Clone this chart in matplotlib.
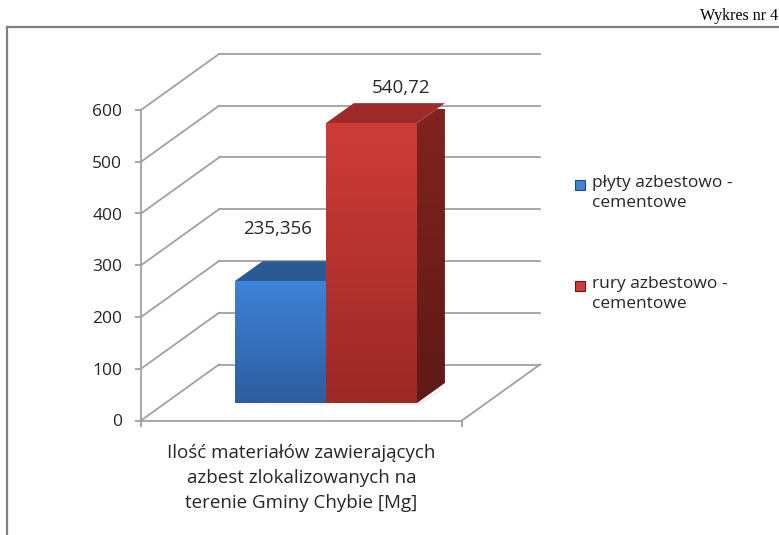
import matplotlib
matplotlib.use("Agg")
import matplotlib.pyplot as plt
import numpy as np
from matplotlib.colors import LinearSegmentedColormap
from matplotlib.lines import Line2D
from matplotlib.patches import Polygon, Rectangle

category = "Ilość materiałów zawierających\nazbest zlokalizowanych na\nterenie Gminy Chybie [Mg]"
series_names = ["płyty azbestowo -\ncementowe", "rury azbestowo -\ncementowe"]
values = [235.356, 540.72]
value_labels = ["235,356", "540,72"]
y_ticks = [0, 100, 200, 300, 400, 500, 600]

# per series: front (top, bottom), side (top, bottom), top face
front_colors = [("#3f82d8", "#2d5d9e"), ("#ce3c39", "#9b2926")]
side_colors = [("#2c5a92", "#23497a"), ("#82231f", "#5e1a18")]
top_colors = ["#2b5a93", "#9d2b29"]
label_offsets = [(-3, 52), (30, 35)]  # px, relative to top of front face

plt.rcParams["font.family"] = ["Open Sans", "DejaVu Sans"]
FS = 12.5
TEXT = "#262626"
GRID = "#a0a0a0"

W, H = 779, 535
fig = plt.figure(figsize=(W / 100, H / 100), dpi=100)
ax = fig.add_axes([141 / W, (H - 420.5) / H, 321 / W, 310.5 / H])

DX, DY = 78 / 321, 56 * 600 / 310.5  # wall depth in data units
D0, D1 = 0.31, 0.67                  # bar depth (fraction of wall)
group_w = 0.568
bar_w = group_w / len(values)


def face(pts, c_top, c_bot, z):
    poly = Polygon(pts, closed=True, facecolor="none", edgecolor="none", zorder=z)
    ax.add_patch(poly)
    xs, ys = zip(*pts)
    cmap = LinearSegmentedColormap.from_list("f", [c_bot, c_top])
    grad = np.linspace(0, 1, 256)[:, None]
    im = ax.imshow(grad, extent=(min(xs), max(xs), min(ys), max(ys)), origin="lower",
                   cmap=cmap, aspect="auto", zorder=z, interpolation="bilinear")
    im.set_clip_path(poly)
    im.set_clip_box(None)


# side wall diagonals and back wall gridlines
for t in y_ticks:
    ax.add_line(Line2D([0, DX], [t, t + DY], color=GRID, lw=1.3, clip_on=False, zorder=1))
    ax.add_line(Line2D([DX, 1 + DX], [t + DY, t + DY], color=GRID, lw=1.3, clip_on=False, zorder=1))
ax.add_line(Line2D([1, 1 + DX], [0, DY], color=GRID, lw=1.3, clip_on=False, zorder=1))

# bars
x_start = 0.5 - group_w / 2
a, b = D0 * DX, D0 * DY
c, e = D1 * DX, D1 * DY
for i, v in enumerate(values):
    x0 = x_start + i * bar_w
    x1 = x0 + bar_w
    z = 3 + i
    # soft floor shadow
    ax.add_patch(Polygon([(x0 + a - 0.01, b - 4), (x1 + a + 0.01, b - 4), (x1 + c + 0.02, e - 2), (x1 + a, b)],
                         closed=True, facecolor="#dcdcdc", edgecolor="none", alpha=0.5, zorder=2, clip_on=False))
    face([(x1 + a, b), (x1 + c, e), (x1 + c, v + e), (x1 + a, v + b)], *side_colors[i], z)
    ax.add_patch(Polygon([(x0 + a, v + b), (x1 + a, v + b), (x1 + c, v + e), (x0 + c, v + e)],
                         closed=True, facecolor=top_colors[i], edgecolor="none", zorder=z, clip_on=False))
    face([(x0 + a, b), (x1 + a, b), (x1 + a, v + b), (x0 + a, v + b)], *front_colors[i], z)
    ax.annotate(value_labels[i], xy=((x0 + x1) / 2 + a, v + b),
                xytext=(label_offsets[i][0] * 0.72, label_offsets[i][1] * 0.72), textcoords="offset points",
                ha="center", va="center", fontsize=13.5, color=TEXT, zorder=10)

ax.set_xlim(0, 1)
ax.set_ylim(0, 600)
ax.set_yticks(y_ticks)
ax.set_xticks([0, 1])
ax.set_xticklabels([])
ax.tick_params(axis="y", direction="out", length=4, width=1.3, color=GRID, pad=9.5,
               labelsize=FS, labelcolor=TEXT)
ax.tick_params(axis="x", direction="out", length=4, width=1.3, color=GRID)
for s in ["top", "right"]:
    ax.spines[s].set_visible(False)
for s in ["left", "bottom"]:
    ax.spines[s].set_color(GRID)
    ax.spines[s].set_linewidth(1.3)
ax.patch.set_visible(False)

ax.annotate(category, xy=(0.5, 0), xytext=(0, -41.4), textcoords="offset points",
            ha="center", va="center", fontsize=13.5, color=TEXT, linespacing=1.5)

# legend
leg_y = [185, 286]
for i, name in enumerate(series_names):
    fig.patches.append(Rectangle((575 / W, (H - leg_y[i] - 5) / H), 10 / W, 10 / H,
                                 transform=fig.transFigure, facecolor=front_colors[i][0],
                                 edgecolor=side_colors[i][1], lw=0.8))
    fig.text(592 / W, (H - leg_y[i] + 10) / H, name, ha="left", va="top", fontsize=FS,
             color=TEXT, linespacing=1.35)

# outer frame and caption
fig.add_artist(Line2D([7 / W, 1], [(H - 27) / H] * 2, color="#808080", lw=1.6, transform=fig.transFigure))
fig.add_artist(Line2D([7 / W] * 2, [(H - 27) / H, 0], color="#808080", lw=1.6, transform=fig.transFigure))
fig.text(778 / W, (H - 16) / H, "Wykres nr 4", ha="right", va="center", fontsize=11.5,
         family="Liberation Serif", color="black")

fig.savefig("out.png", dpi=100)
